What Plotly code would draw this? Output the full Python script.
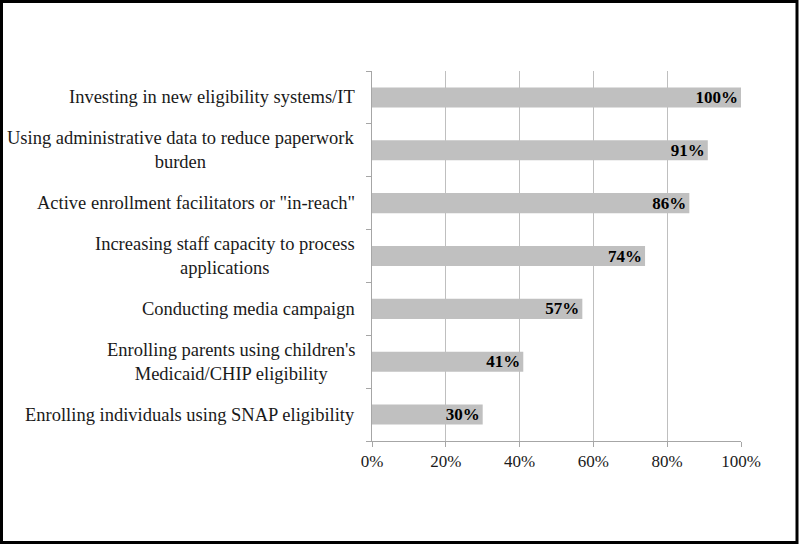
import plotly.graph_objects as go

# data (top to bottom)
categories = [
    "Investing in new eligibility systems/IT",
    "Using administrative data to reduce paperwork<br>burden",
    "Active enrollment facilitators or \"in-reach\"",
    "Increasing staff capacity to process<br>applications",
    "Conducting media campaign",
    "Enrolling parents using children's<br>Medicaid/CHIP eligibility",
    "Enrolling individuals using SNAP eligibility",
]
values = [100, 91, 86, 74, 57, 41, 30]
x_ticks = [0, 20, 40, 60, 80, 100]
x_tick_labels = ["0%", "20%", "40%", "60%", "80%", "100%"]

W, H = 800, 545
L, R, T, B = 372, 59, 71, 104
FONT = "Liberation Serif, Times New Roman, serif"

fig = go.Figure(go.Bar(
    x=values,
    y=categories,
    orientation="h",
    marker=dict(color="#c0c0c0", line=dict(width=0)),
    text=[f"{v}%" for v in values],
    textposition="inside",
    insidetextanchor="end",
    textfont=dict(family=FONT, size=17, color="black", weight="bold"),
    cliponaxis=False,
    hoverinfo="skip",
))

# category labels as annotations so wrapped lines stay centred
for cat in categories:
    fig.add_annotation(
        x=0, xref="paper", y=cat, yref="y",
        text=cat, showarrow=False, align="center",
        xanchor="right", xshift=-15,
        font=dict(family=FONT, size=18.5, color="#1a1a1a"),
    )

# black frame around the whole picture
pw, ph = W - L - R, H - T - B
def px_x(p):
    return (p - L) / pw
def px_y(p):
    return (H - B - p) / ph
fig.add_shape(type="rect", xref="paper", yref="paper",
              x0=px_x(1.5), x1=px_x(797), y0=px_y(542.5), y1=px_y(1.5),
              line=dict(color="black", width=3))

fig.update_layout(
    width=W, height=H,
    margin=dict(l=L, r=R, t=T, b=B),
    plot_bgcolor="white", paper_bgcolor="white",
    bargap=0.62,
    showlegend=False,
    uniformtext=dict(minsize=17, mode="show"),
    font=dict(family=FONT, size=17, color="#1a1a1a"),
    xaxis=dict(
        range=[0, 100], tickvals=x_ticks, ticktext=x_tick_labels,
        showgrid=True, gridcolor="#bfbfbf", gridwidth=1,
        showline=True, linecolor="#a6a6a6", linewidth=1,
        ticks="outside", ticklen=5, tickcolor="#a6a6a6",
        zeroline=False, fixedrange=True,
        tickfont=dict(family=FONT, size=17, color="#1a1a1a"),
    ),
    yaxis=dict(
        categoryorder="array", categoryarray=categories[::-1],
        showticklabels=False, showgrid=False,
        showline=True, linecolor="#a6a6a6", linewidth=1,
        ticks="outside", ticklen=5, tickcolor="#a6a6a6",
        tickson="boundaries", zeroline=False, fixedrange=True,
    ),
)

fig.write_html("out.html", config={"displayModeBar": False},
               post_script="document.body.style.margin='0';")
